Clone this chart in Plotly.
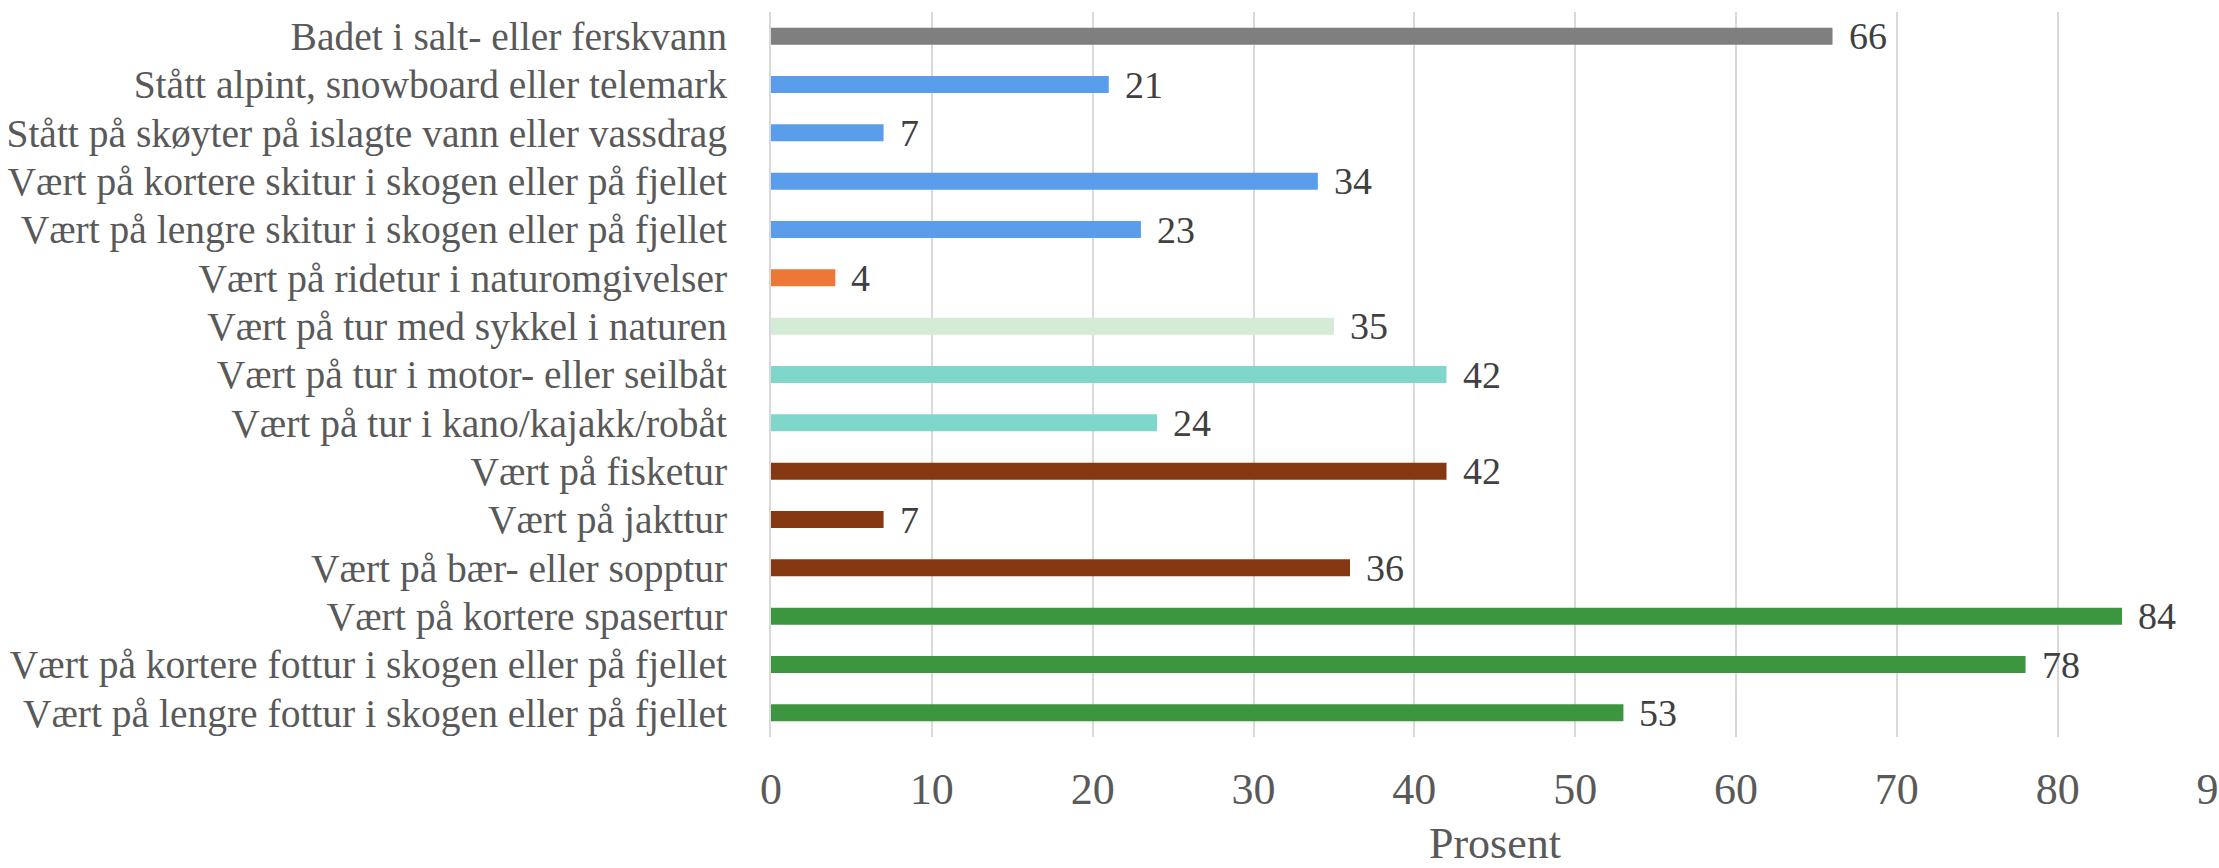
import plotly.graph_objects as go

categories = [
    "Badet i salt- eller ferskvann",
    "Stått alpint, snowboard eller telemark",
    "Stått på skøyter på islagte vann eller vassdrag",
    "Vært på kortere skitur i skogen eller på fjellet",
    "Vært på lengre skitur i skogen eller på fjellet",
    "Vært på ridetur i naturomgivelser",
    "Vært på tur med sykkel i naturen",
    "Vært på tur i motor- eller seilbåt",
    "Vært på tur i kano/kajakk/robåt",
    "Vært på fisketur",
    "Vært på jakttur",
    "Vært på bær- eller sopptur",
    "Vært på kortere spasertur",
    "Vært på kortere fottur i skogen eller på fjellet",
    "Vært på lengre fottur i skogen eller på fjellet",
]
values = [66, 21, 7, 34, 23, 4, 35, 42, 24, 42, 7, 36, 84, 78, 53]
colors = [
    "#7f7f7f",
    "#5a9deb", "#5a9deb", "#5a9deb", "#5a9deb",
    "#ed7735",
    "#d4ecd5",
    "#7fd7cc", "#7fd7cc",
    "#853811", "#853811", "#853811",
    "#3c963f", "#3c963f", "#3c963f",
]
x_ticks = [0, 10, 20, 30, 40, 50, 60, 70, 80, 90]
x_title = "Prosent"

FONT = "Liberation Serif"

fig = go.Figure()
fig.add_trace(go.Bar(
    x=values,
    y=categories,
    orientation="h",
    marker=dict(color=colors, line=dict(width=0)),
    showlegend=False,
    hoverinfo="x+y",
))

for c, v in zip(categories, values):
    fig.add_annotation(
        x=v, y=c, xref="x", yref="y",
        text=str(v), showarrow=False,
        xanchor="left", yanchor="middle", xshift=14,
        font=dict(family=FONT, size=38, color="#404040"),
    )

fig.update_layout(
    width=2219, height=868,
    margin=dict(l=771, r=0, t=12, b=131),
    paper_bgcolor="white",
    plot_bgcolor="white",
    bargap=0.648,
    font=dict(family=FONT, color="#595959"),
)
fig.update_xaxes(
    range=[0, 90.03],
    tickvals=x_ticks,
    ticktext=[str(t) for t in x_ticks],
    showgrid=True, gridcolor="#d9d9d9", gridwidth=2,
    zeroline=False,
    showline=False,
    ticks="",
    ticklabelstandoff=22,
    ticklabeloverflow="allow",
    tickfont=dict(family=FONT, size=44, color="#595959"),
    title=dict(text=x_title, font=dict(family=FONT, size=44, color="#595959"), standoff=18),
    automargin=False,
)
fig.update_yaxes(
    categoryorder="array",
    categoryarray=categories[::-1],
    autorange=False,
    range=[-0.5, len(categories) - 0.5],
    showgrid=False,
    zeroline=False,
    showline=True, linecolor="#d9d9d9", linewidth=2,
    ticks="",
    ticklabelstandoff=34,
    tickfont=dict(family=FONT, size=39.5, color="#595959"),
    automargin=False,
)

fig.write_html("out.html")
